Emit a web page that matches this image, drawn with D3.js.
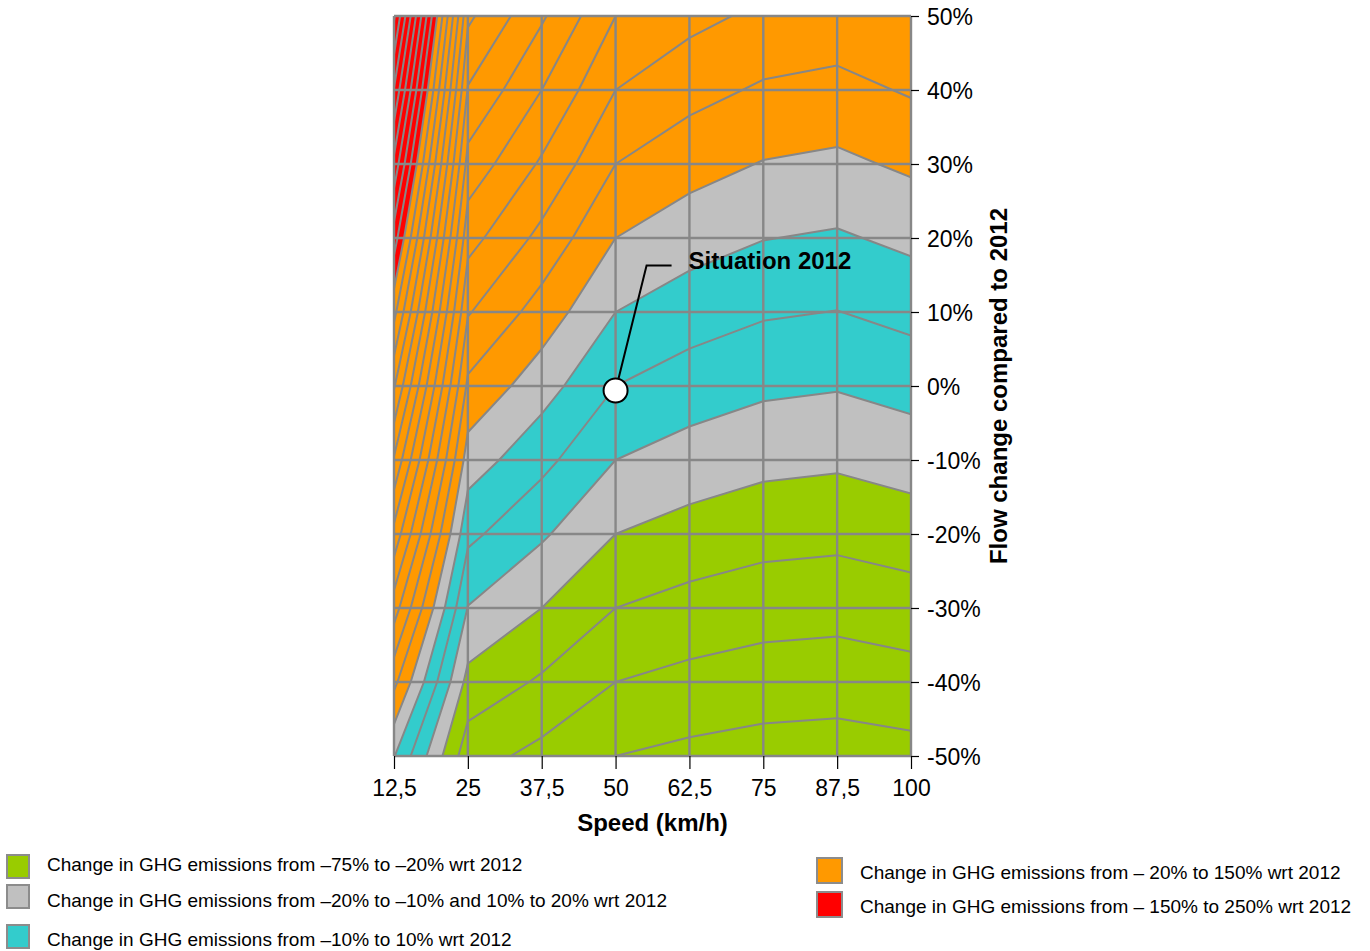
<!DOCTYPE html>
<html>
<head>
<meta charset="utf-8">
<script src="https://cdn.jsdelivr.net/npm/d3@7"></script>
<style>
  body { margin: 0; background: #fff; }
  text { font-family: "Liberation Sans", Arial, sans-serif; fill: #000; }
</style>
</head>
<body>
<div id="chart"></div>
<script>
"use strict";

// speed columns (km/h) and flow rows (% change vs 2012), top row first
const speeds = [12.5, 25, 37.5, 50, 62.5, 75, 87.5, 100];
const flows = [50, 40, 30, 20, 10, 0, -10, -20, -30, -40, -50];

// change in GHG emissions wrt 2012 (%), one row per flow, one value per speed
const ghgChange = [
  [231.5, 92.0, 71.4,  50, 42.8, 37.9, 36.1, 39.6],
  [209.4, 79.2, 60.0,  40, 33.3, 28.7, 27.0, 31.0],
  [187.3, 66.4, 48.6,  30, 23.8, 19.5, 17.9, 21.7],
  [165.2, 53.6, 37.2,  20, 14.2, 10.3,  8.8, 12.3],
  [143.1, 40.8, 25.7,  10,  4.7,  1.1, -0.2,  3.0],
  [121.0, 28.0, 14.3,   0, -4.8, -8.1, -9.3, -6.4],
  [ 98.9, 15.2,  2.9, -10, -14.3, -17.3, -18.4, -15.8],
  [ 76.8,  2.4, -8.6, -20, -23.8, -26.5, -27.4, -25.1],
  [ 54.7, -10.4, -20.0, -30, -33.4, -35.7, -36.5, -34.5],
  [ 32.6, -23.2, -31.4, -40, -42.9, -44.9, -45.6, -43.8],
  [ 10.5, -36.0, -42.9, -50, -52.4, -54.0, -54.6, -53.2]
];

// colour bands: lower bounds and fills
const bandThresholds = [-20, -10, 10, 20, 150];
const bandColors = ["#99cc00", "#c0c0c0", "#33cccc", "#c0c0c0", "#ff9900", "#ff0000"];
const lineLevels = d3.range(-50, 231, 10);

const situation = {speed: 50, flow: -0.6, label: "Situation 2012"};

const legendLeft = [
  {color: "#99cc00", text: "Change in GHG emissions from \u201375% to \u201320% wrt 2012"},
  {color: "#c0c0c0", text: "Change in GHG emissions from \u201320% to \u201310% and 10% to 20% wrt 2012"},
  {color: "#33cccc", text: "Change in GHG emissions from \u201310% to 10% wrt 2012"}
];
const legendRight = [
  {color: "#ff9900", text: "Change in GHG emissions from \u2013 20% to 150% wrt 2012"},
  {color: "#ff0000", text: "Change in GHG emissions from \u2013 150% to 250% wrt 2012"}
];

var width = 1370;
var height = 951;
var gridColor = "#878787";

var x = d3.scaleLinear().domain([12.5, 100]).range([394, 911]);
var y = d3.scaleLinear().domain([-50, 50]).range([756, 16]);

var svg = d3.select("#chart").append("svg")
  .attr("width", width)
  .attr("height", height);

svg.append("clipPath").attr("id", "plot-clip")
  .append("rect")
  .attr("x", x(12.5)).attr("y", y(50))
  .attr("width", x(100) - x(12.5)).attr("height", y(-50) - y(50));

// grid index space of d3.contours -> pixels (value i sits at i + 0.5)
var cx = d3.scaleLinear().domain([0.5, speeds.length - 0.5]).range([x(speeds[0]), x(speeds[speeds.length - 1])]);
var cy = d3.scaleLinear().domain([0.5, flows.length - 0.5]).range([y(flows[0]), y(flows[flows.length - 1])]);
var path = d3.geoPath(d3.geoTransform({
  point: function(px, py) { this.stream.point(cx(px), cy(py)); }
}));

var values = ghgChange.flat();
var contours = d3.contours().size([speeds.length, flows.length]);

var plot = svg.append("g").attr("clip-path", "url(#plot-clip)");

plot.append("rect")
  .attr("x", x(12.5)).attr("y", y(50))
  .attr("width", x(100) - x(12.5)).attr("height", y(-50) - y(50))
  .attr("fill", bandColors[0]);

plot.append("g").selectAll("path")
  .data(bandThresholds.map(t => contours.contour(values, t)))
  .enter().append("path")
  .attr("d", path)
  .attr("fill", (d, i) => bandColors[i + 1]);

plot.append("g").selectAll("path")
  .data(lineLevels.map(t => contours.contour(values, t)))
  .enter().append("path")
  .attr("d", path)
  .attr("fill", "none")
  .attr("stroke", gridColor)
  .attr("stroke-width", 2)
  .attr("stroke-linejoin", "round");

// grid
var grid = svg.append("g").attr("stroke", gridColor).attr("stroke-width", 2.4);
grid.selectAll(".gx").data(speeds).enter().append("line")
  .attr("x1", d => x(d)).attr("x2", d => x(d))
  .attr("y1", y(50)).attr("y2", y(-50));
grid.selectAll(".gy").data(flows).enter().append("line")
  .attr("x1", x(12.5)).attr("x2", x(100))
  .attr("y1", d => y(d)).attr("y2", d => y(d));

// axes
var xAxis = svg.append("g")
  .attr("transform", "translate(0," + y(-50) + ")")
  .call(d3.axisBottom(x).tickValues(speeds).tickSize(13).tickPadding(11)
    .tickFormat(d => String(d).replace(".", ",")));
var yAxis = svg.append("g")
  .attr("transform", "translate(" + x(100) + ",0)")
  .call(d3.axisRight(y).tickValues(flows).tickSize(8).tickPadding(8)
    .tickFormat(d => d + "%"));
[xAxis, yAxis].forEach(function(a) {
  a.select(".domain").remove();
  a.selectAll(".tick line").attr("stroke", "#000").attr("stroke-width", 1.2);
  a.selectAll(".tick text").attr("font-size", 23).attr("font-family", "Liberation Sans, Arial, sans-serif").attr("fill", "#000");
});
yAxis.selectAll(".tick text").attr("dy", "0.38em");

svg.append("text")
  .attr("x", (x(12.5) + x(100)) / 2).attr("y", 831)
  .attr("text-anchor", "middle")
  .attr("font-size", 24).attr("font-weight", "bold")
  .text("Speed (km/h)");

svg.append("text")
  .attr("transform", "translate(1007," + y(0) + ") rotate(-90)")
  .attr("text-anchor", "middle")
  .attr("font-size", 24).attr("font-weight", "bold")
  .text("Flow change compared to 2012");

// situation 2012 marker
var sx = x(situation.speed), sy = y(situation.flow);
svg.append("polyline")
  .attr("points", [[sx, sy], [sx + 31, sy - 125], [sx + 56, sy - 125]].map(p => p.join(",")).join(" "))
  .attr("fill", "none").attr("stroke", "#000").attr("stroke-width", 2);
svg.append("circle")
  .attr("cx", sx).attr("cy", sy).attr("r", 12)
  .attr("fill", "#fff").attr("stroke", "#000").attr("stroke-width", 2);
svg.append("text")
  .attr("x", sx + 73).attr("y", sy - 121)
  .attr("font-size", 24).attr("font-weight", "bold")
  .text(situation.label);

// legend
var legL = svg.append("g").selectAll("g")
  .data(legendLeft).enter().append("g");
legL.append("rect")
  .attr("x", 7).attr("y", (d, i) => [855, 885, 925][i])
  .attr("width", 22).attr("height", 23)
  .attr("fill", d => d.color).attr("stroke", "#8c8c8c").attr("stroke-width", 2);
legL.append("text")
  .attr("x", 47).attr("y", (d, i) => [871, 907, 946][i])
  .attr("font-size", 19)
  .text(d => d.text);

var legR = svg.append("g").selectAll("g")
  .data(legendRight).enter().append("g")
  .attr("transform", (d, i) => "translate(0," + (858 + i * 34) + ")");
legR.append("rect")
  .attr("x", 817).attr("width", 25).attr("height", 25)
  .attr("fill", d => d.color).attr("stroke", "#8c8c8c").attr("stroke-width", 2);
legR.append("text")
  .attr("x", 860).attr("y", 21)
  .attr("font-size", 19)
  .text(d => d.text);
</script>
</body>
</html>
